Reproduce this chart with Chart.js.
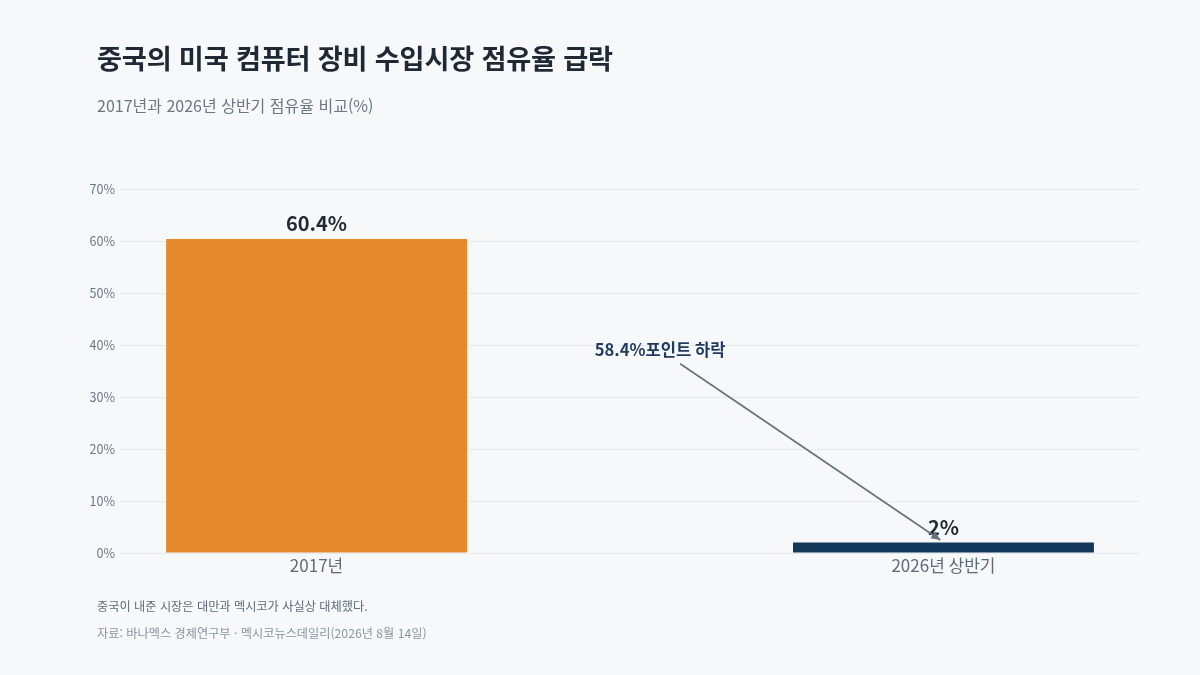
<!DOCTYPE html>
<html lang="ko">
<head>
<meta charset="utf-8">
<script src="https://cdn.jsdelivr.net/npm/chart.js@4.4.1/dist/chart.umd.min.js"></script>
<style>
  html, body { margin: 0; padding: 0; }
  body {
    width: 1200px; height: 675px; overflow: hidden; position: relative;
    background: #f7f8fa;
    font-family: "Noto Sans CJK KR", "Noto Sans", sans-serif;
  }
  #wrap { position: absolute; left: 0; top: 0; width: 1200px; height: 675px; }
  .txt { position: absolute; left: 97px; white-space: nowrap; }
  #title { top: 37px; font-size: 27.2px; font-weight: 700; color: #1f2933; letter-spacing: -0.2px; }
  #subtitle { top: 93px; font-size: 16px; color: #6b7684; }
  #note { top: 597px; font-size: 12.2px; color: #5f6b7a; }
  #source { top: 624px; font-size: 12.2px; color: #8a94a3; }
</style>
</head>
<body>
<div id="wrap"><canvas id="c" width="1200" height="675"></canvas></div>
<div class="txt" id="title">중국의 미국 컴퓨터 장비 수입시장 점유율 급락</div>
<div class="txt" id="subtitle">2017년과 2026년 상반기 점유율 비교(%)</div>
<div class="txt" id="note">중국이 내준 시장은 대만과 멕시코가 사실상 대체했다.</div>
<div class="txt" id="source">자료: 바나멕스 경제연구부 · 멕시코뉴스데일리(2026년 8월 14일)</div>
<script>
// ---- data ----
const categories = ['2017년', '2026년 상반기'];
const shareValues = [60.4, 2];
const valueLabels = ['60.4%', '2%'];
const yTicks = [0, 10, 20, 30, 40, 50, 60, 70];
const annotationText = '58.4%포인트 하락';
// arrow from (category index, value) to (category index, value)
const arrowFrom = [0.58, 36.4];
const arrowTo = [0.995, 2.5];
const annotationPos = [0.548, 39.1];

const barColors = ['#e58a2e', '#14385a'];
const FONT = '"Noto Sans CJK KR", "Noto Sans", sans-serif';

const overlay = {
  id: 'overlay',
  afterDatasetsDraw(chart) {
    const ctx = chart.ctx;
    const xs = chart.scales.x, ys = chart.scales.y;
    ctx.save();
    // value labels
    ctx.font = '700 20px ' + FONT;
    ctx.fillStyle = '#1f2933';
    ctx.textAlign = 'center';
    ctx.textBaseline = 'alphabetic';
    shareValues.forEach((v, i) => {
      ctx.fillText(valueLabels[i], xs.getPixelForValue(i), ys.getPixelForValue(v) - 8);
    });
    // arrow
    const x1 = xs.getPixelForValue(arrowFrom[0]), y1 = ys.getPixelForValue(arrowFrom[1]);
    const x2 = xs.getPixelForValue(arrowTo[0]), y2 = ys.getPixelForValue(arrowTo[1]);
    ctx.strokeStyle = '#667180';
    ctx.fillStyle = '#667180';
    ctx.lineWidth = 1.6;
    ctx.beginPath(); ctx.moveTo(x1, y1); ctx.lineTo(x2, y2); ctx.stroke();
    const ang = Math.atan2(y2 - y1, x2 - x1);
    const hl = 10, hw = 0.42;
    ctx.beginPath();
    ctx.moveTo(x2, y2);
    ctx.lineTo(x2 - hl * Math.cos(ang - hw), y2 - hl * Math.sin(ang - hw));
    ctx.lineTo(x2 - hl * Math.cos(ang + hw), y2 - hl * Math.sin(ang + hw));
    ctx.closePath(); ctx.fill();
    // annotation text
    ctx.font = '700 16.6px ' + FONT;
    ctx.fillStyle = '#1e3a5f';
    ctx.textBaseline = 'middle';
    ctx.fillText(annotationText, xs.getPixelForValue(annotationPos[0]), ys.getPixelForValue(annotationPos[1]));
    ctx.restore();
  }
};

new Chart(document.getElementById('c'), {
  type: 'bar',
  data: {
    datasets: [{
      data: shareValues.map((v, i) => ({ x: i, y: v })),
      backgroundColor: barColors,
      borderWidth: 0,
      categoryPercentage: 0.8,
      barPercentage: 0.6
    }]
  },
  options: {
    responsive: false,
    animation: false,
    devicePixelRatio: 1,
    layout: { padding: { left: 0, right: 60, top: 189, bottom: 0 } },
    plugins: { legend: { display: false }, tooltip: { enabled: false } },
    scales: {
      x: {
        type: 'linear',
        min: -0.3135,
        max: 1.3135,
        offset: false,
        afterFit(s) { s.height = 122; },
        afterBuildTicks(s) { s.ticks = categories.map((c, i) => ({ value: i })); },
        grid: { display: false },
        border: { display: false },
        ticks: {
          autoSkip: false,
          maxRotation: 0,
          padding: -6,
          color: '#5f6b7a',
          font: { family: FONT, size: 17 },
          callback: (v) => categories[v] ?? ''
        }
      },
      y: {
        min: 0,
        max: 70,
        afterFit(s) { s.width = 120; },
        afterBuildTicks(s) { s.ticks = yTicks.map(v => ({ value: v })); },
        grid: { color: '#e6e9ed', lineWidth: 1, drawTicks: false },
        border: { display: false },
        ticks: {
          padding: 5,
          color: '#6b7684',
          font: { family: FONT, size: 12.5 },
          callback: (v) => v + '%'
        }
      }
    }
  },
  plugins: [overlay]
});
</script>
</body>
</html>
